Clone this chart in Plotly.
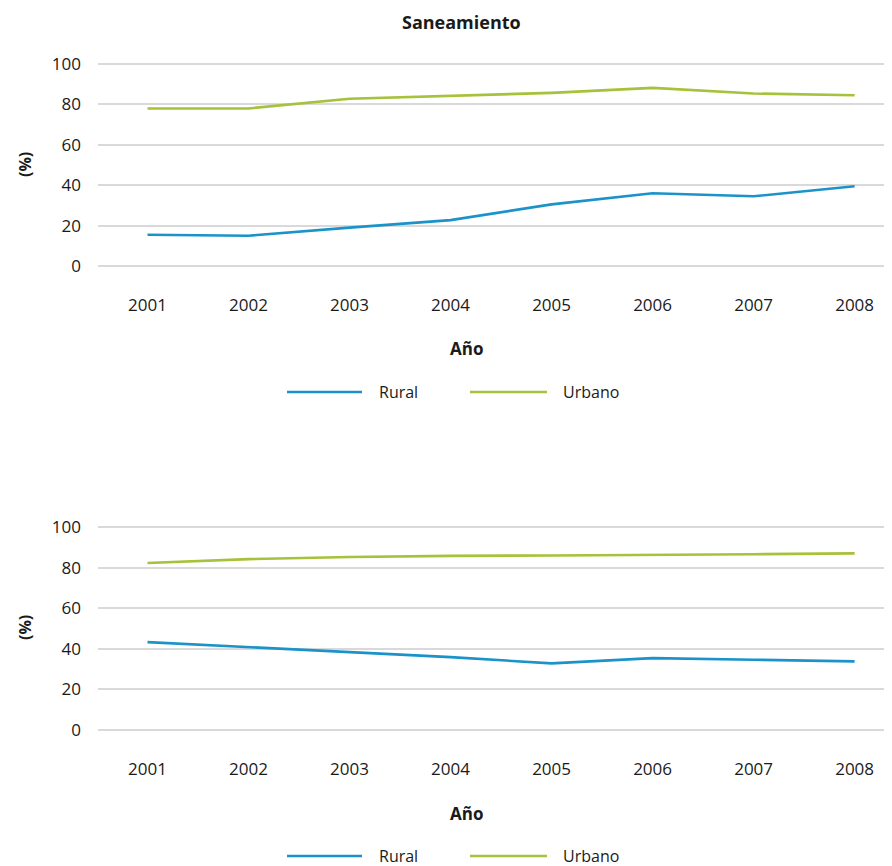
import plotly.graph_objects as go

years = ["2001", "2002", "2003", "2004", "2005", "2006", "2007", "2008"]
san_rural = [15.5, 15.0, 19.0, 22.7, 30.5, 36.0, 34.5, 39.5]
san_urbano = [78.0, 78.0, 82.8, 84.3, 85.7, 88.2, 85.4, 84.5]
b_rural = [43.3, 40.8, 38.5, 35.9, 32.8, 35.4, 34.6, 33.8]
b_urbano = [82.3, 84.2, 85.2, 85.8, 86.0, 86.2, 86.6, 87.0]
series_names = ["Rural", "Urbano"]
y_ticks = [0, 20, 40, 60, 80, 100]
title_top = "Saneamiento"
x_title = "Año"
y_title = "(%)"

BLUE = "#1b93c9"
GREEN = "#a6c13a"
GRID = "#d9d9d9"
TXT = "#1a1a1a"
FONT = "Open Sans"
OFF = 8  # page body margin
W, H = 892 - OFF, 866 - OFF

fig = go.Figure()
for i, (r, u) in enumerate([(san_rural, san_urbano), (b_rural, b_urbano)]):
    xa = "x" if i == 0 else "x2"
    ya = "y" if i == 0 else "y2"
    fig.add_trace(go.Scatter(x=years, y=r, mode="lines", name=series_names[0],
                             line=dict(color=BLUE, width=2.6), xaxis=xa, yaxis=ya,
                             showlegend=False))
    fig.add_trace(go.Scatter(x=years, y=u, mode="lines", name=series_names[1],
                             line=dict(color=GREEN, width=2.6), xaxis=xa, yaxis=ya,
                             showlegend=False))

def py(pix):
    return 1 - (pix - OFF) / H

def px(pix):
    return (pix - OFF) / W

xdom = [px(98), 1.0]
xcommon = dict(domain=xdom, type="category", range=[-0.49, 7.37], showgrid=False,
               zeroline=False, showline=False, ticks="", automargin=False,
               tickfont=dict(family=FONT, size=17, color=TXT), ticklabelstandoff=25)
ycommon = dict(range=[-1, 101], tickvals=y_ticks, showgrid=True, gridcolor=GRID,
               gridwidth=2, zeroline=False, showline=False, ticks="", automargin=False,
               tickfont=dict(family=FONT, size=17, color=TXT), ticklabelstandoff=16)

fig.update_layout(
    width=W, height=H,
    margin=dict(l=0, r=0, t=0, b=0, pad=0, autoexpand=False),
    paper_bgcolor="white", plot_bgcolor="white",
    xaxis=dict(**xcommon, anchor="y"),
    yaxis=dict(**ycommon, domain=[py(268), py(62)], anchor="x"),
    xaxis2=dict(**xcommon, anchor="y2"),
    yaxis2=dict(**ycommon, domain=[py(732), py(525)], anchor="x2"),
    showlegend=False,
)

ann = []
shapes = []
ann.append(dict(text="<b>%s</b>" % title_top, x=px(462), y=py(22), xref="paper", yref="paper",
                showarrow=False, xanchor="center", yanchor="middle",
                font=dict(family=FONT, size=18, color=TXT)))
for (yl_c, xt_c, leg_c) in [(165, 349, 392), (628, 813, 856)]:
    ann.append(dict(text="<b>%s</b>" % y_title, x=px(25), y=py(yl_c), xref="paper", yref="paper",
                    showarrow=False, textangle=-90, xanchor="center", yanchor="middle",
                    font=dict(family=FONT, size=16, color=TXT)))
    ann.append(dict(text="<b>%s</b>" % x_title, x=px(466), y=py(xt_c), xref="paper", yref="paper",
                    showarrow=False, xanchor="center", yanchor="middle",
                    font=dict(family=FONT, size=17, color=TXT)))
    for name, col, x0, x1, xt in [(series_names[0], BLUE, 287, 362, 377),
                                  (series_names[1], GREEN, 470, 547, 561)]:
        shapes.append(dict(type="line", xref="paper", yref="paper", x0=px(x0), x1=px(x1),
                           y0=py(leg_c), y1=py(leg_c), line=dict(color=col, width=2.6)))
        ann.append(dict(text=name, x=px(xt), y=py(leg_c), xref="paper", yref="paper",
                        xanchor="left", yanchor="middle", showarrow=False,
                        font=dict(family=FONT, size=16, color=TXT)))

fig.update_layout(annotations=ann, shapes=shapes)
fig.write_html("out.html")
